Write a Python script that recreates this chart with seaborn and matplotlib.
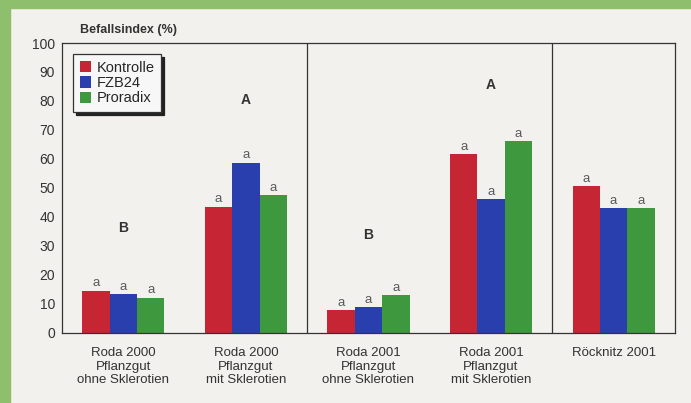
import pandas as pd
import matplotlib
matplotlib.use('Agg')
import matplotlib.pyplot as plt
import seaborn as sns
from matplotlib.patches import Rectangle

# Werte
standorte = ['Roda 2000\nPflanzgut\nohne Sklerotien',
             'Roda 2000\nPflanzgut\nmit Sklerotien',
             'Roda 2001\nPflanzgut\nohne Sklerotien',
             'Roda 2001\nPflanzgut\nmit Sklerotien',
             'Röcknitz 2001']
varianten = ['Kontrolle', 'FZB24', 'Proradix']
kontrolle = [14.6, 43.6, 7.9, 61.7, 50.7]
fzb24 = [13.4, 58.7, 8.9, 46.2, 43.1]
proradix = [12.2, 47.6, 13.0, 66.2, 43.1]
gruppen_buchstaben = ['B', 'A', 'B', 'A', '']
buchstaben_hoehe = [36.2, 80.3, 33.8, 85.5, 0]
farben = ['#c62634', '#2a3fae', '#3e983d']

df = pd.DataFrame({
    'Standort': standorte * 3,
    'Variante': sum([[v] * len(standorte) for v in varianten], []),
    'Befall': kontrolle + fzb24 + proradix,
})

sns.set_style('white')
plt.rcParams['font.family'] = ['Liberation Sans', 'DejaVu Sans']

fig = plt.figure(figsize=(6.91, 4.03), dpi=100, facecolor='#f3f1ee')
# gruener Rahmen oben und links
fig.patches.append(Rectangle((0, 0.98), 1, 0.02, transform=fig.transFigure,
                             color='#8dbf6c', zorder=0))
fig.patches.append(Rectangle((0, 0), 0.014, 1, transform=fig.transFigure,
                             color='#8dbf6c', zorder=0))
ax = fig.add_axes([0.0897, 0.1737, 0.887, 0.7196])
ax.set_facecolor('#f3f1ee')

sns.barplot(data=df, x='Standort', y='Befall', hue='Variante',
            palette=farben, width=0.67, saturation=1, linewidth=0, ax=ax)

for cont in ax.containers:
    ax.bar_label(cont, labels=['a'] * len(cont), padding=1,
                 fontsize=9.5, color='#5a5a5a')

for i, (b, h) in enumerate(zip(gruppen_buchstaben, buchstaben_hoehe)):
    if b:
        ax.text(i, h, b, ha='center', va='center', fontsize=10,
                fontweight='bold', color='#333333')

for xs in [1.5, 3.5]:
    ax.axvline(xs, color='#333333', lw=0.9)

ax.set_xlim(-0.5, 4.5)
ax.set_ylim(0, 100)
ax.set_yticks(range(0, 101, 10))
ax.set_xlabel('')
ax.set_ylabel('')
ax.tick_params(axis='y', length=3, width=0.8, color='#333333',
               labelsize=10, labelcolor='#333333', pad=2)
ax.tick_params(axis='x', length=0, labelsize=9.5, labelcolor='#333333', pad=10)
for sp in ax.spines.values():
    sp.set_color('#333333')
    sp.set_linewidth(0.9)

ax.text(0.03, 1.045, 'Befallsindex (%)', transform=ax.transAxes,
        fontsize=9, fontweight='bold', color='#333333', va='center')

leg = ax.legend(loc='upper left', bbox_to_anchor=(0.018, 0.962),
                borderaxespad=0, frameon=True, fancybox=False,
                shadow={'color': '#222222', 'alpha': 1},
                handlelength=0.8, handleheight=0.8, handletextpad=0.35,
                labelspacing=0.1, borderpad=0.45, fontsize=10.5, title=None)
leg.get_frame().set_edgecolor('#333333')
leg.get_frame().set_facecolor('#f7f7f7')
leg.get_frame().set_linewidth(0.9)

plt.savefig('out.png', dpi=100, facecolor=fig.get_facecolor())
